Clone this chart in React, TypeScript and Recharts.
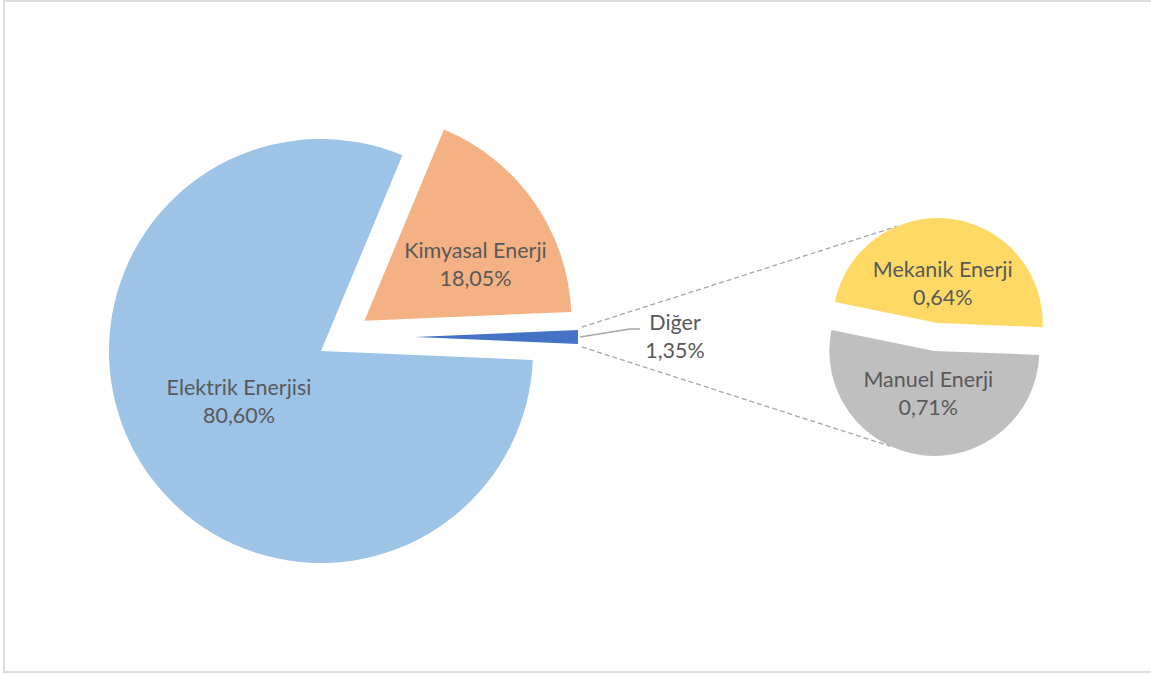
import { PieChart, Pie, Cell } from "recharts";

// Ana pasta: enerji türlerinin payı (%), "Diğer" ilk dilim
const mainNames = ["Diğer", "Kimyasal Enerji", "Elektrik Enerjisi"];
const mainValues = [1.35, 18.05, 80.6];
const mainColors = ["#4472C4", "#F4B183", "#9DC3E6"];

// "Diğer" diliminin ikinci pastadaki kırılımı
const otherNames = ["Mekanik Enerji", "Manuel Enerji"];
const otherValues = [0.64, 0.71];
const otherColors = ["#FFD966", "#BFBFBF"];

const W = 1151;
const H = 675;
const FONT = "Lato, 'Open Sans', sans-serif";
const FS = 21.5;
const TEXT = "#595959";
const LINE_GAP = 28;

const MAIN = { cx: 321, cy: 351, r: 212 };
// dışarı çekilen dilimler: [uzaklık, yarıçap]
const MAIN_EXPLODE: Record<string, [number, number]> = { "Kimyasal Enerji": [53, 207] };
// "Diğer" dilimi ayrı merkezde, daha küçük çizilir
const OTHER = { cx: 415, cy: 337, r: 163 };
const SUB = { cx: 936, cy: 337, r: 105, explode: 14, start: -2.2 };

// etiketin ilk satırının dilim merkezine göre konumu
const LABEL_POS: Record<string, [number, number]> = {
  "Elektrik Enerjisi": [-82, 44],
  "Kimyasal Enerji": [111, -63],
  "Mekanik Enerji": [5, -46],
  "Manuel Enerji": [-6, 36],
};

const RAD = Math.PI / 180;
const pct = (v: number) => v.toFixed(2).replace(".", ",") + "%";

type Slice = { name: string; value: number; color: string; start: number; end: number; mid: number };

function layoutSlices(names: string[], values: number[], colors: string[], startAngle: number): Slice[] {
  const total = values.reduce((a, b) => a + b, 0);
  let a = startAngle;
  return names.map((name, i) => {
    const sweep = (values[i] / total) * 360;
    const s = { name, value: values[i], color: colors[i], start: a, end: a + sweep, mid: a + sweep / 2 };
    a += sweep;
    return s;
  });
}

const mainTotal = mainValues.reduce((a, b) => a + b, 0);
// "Diğer" dilimi sağa, ikinci pastaya bakacak şekilde ortalanır
const mainSlices = layoutSlices(mainNames, mainValues, mainColors, -(mainValues[0] / mainTotal) * 180);
const subSlices = layoutSlices(otherNames, otherValues, otherColors, SUB.start);

function centerOf(s: Slice) {
  if (s.name === "Diğer") return { cx: OTHER.cx, cy: OTHER.cy, r: OTHER.r };
  const [d, r] = MAIN_EXPLODE[s.name] || [0, MAIN.r];
  return { cx: MAIN.cx + d * Math.cos(s.mid * RAD), cy: MAIN.cy - d * Math.sin(s.mid * RAD), r };
}

function subCenterOf(s: Slice) {
  return {
    cx: SUB.cx + SUB.explode * Math.cos(s.mid * RAD),
    cy: SUB.cy - SUB.explode * Math.sin(s.mid * RAD),
    r: SUB.r,
  };
}

function TwoLine({ x, y, name, value }: { x: number; y: number; name: string; value: number }) {
  return (
    <text x={x} y={y} textAnchor="middle" fill={TEXT} fontSize={FS} fontFamily={FONT}>
      <tspan x={x} dy={0}>{name}</tspan>
      <tspan x={x} dy={LINE_GAP}>{pct(value)}</tspan>
    </text>
  );
}

// "Diğer" etiketi, kılavuz çizgisi ve ikinci pastaya giden kesikli çizgiler
function OtherCallout({ s }: { s: Slice }) {
  const tip = (a: number) => [OTHER.cx + OTHER.r * Math.cos(a * RAD), OTHER.cy - OTHER.r * Math.sin(a * RAD)];
  const [ux, uy] = tip(s.end);
  const [lx, ly] = tip(s.start);
  const [mx, my] = tip(s.mid);
  const top = subCenterOf(subSlices[0]);
  const bottom = subCenterOf(subSlices[1]);
  const tx = top.cx + top.r * Math.cos(113 * RAD);
  const ty = top.cy - top.r * Math.sin(113 * RAD);
  const bx = bottom.cx + bottom.r * Math.cos(245 * RAD);
  const by = bottom.cy - bottom.r * Math.sin(245 * RAD);
  const sx = mx + 2;
  const ex = sx + 50;
  const ey = my - 8;
  return (
    <g>
      <line x1={ux + 4} y1={uy - 3} x2={tx} y2={ty} stroke="#A6A6A6" strokeWidth={1.3} strokeDasharray="5 3" />
      <line x1={lx + 4} y1={ly + 3} x2={bx} y2={by} stroke="#A6A6A6" strokeWidth={1.3} strokeDasharray="5 3" />
      <polyline points={`${sx},${my} ${ex},${ey} ${ex + 10},${ey}`} fill="none" stroke="#A6A6A6" strokeWidth={1.3} />
      <TwoLine x={ex + 45} y={ey + 1} name={s.name} value={s.value} />
    </g>
  );
}

export default function App() {
  return (
    <div style={{ position: "absolute", left: 0, top: 0, width: W, height: H, background: "#fff", overflow: "hidden" }}>
      <div
        style={{
          position: "absolute",
          left: 3,
          top: 0,
          width: W,
          height: 673,
          boxSizing: "border-box",
          borderTop: "2px solid #DEDEDE",
          borderLeft: "2px solid #DEDEDE",
          borderBottom: "2px solid #DEDEDE",
        }}
      />
      <PieChart
        width={W}
        height={H}
        margin={{ top: 0, right: 0, bottom: 0, left: 0 }}
        style={{ position: "absolute", left: 0, top: 0 }}
      >
        {mainSlices.map((s) => {
          const c = centerOf(s);
          const pos = LABEL_POS[s.name];
          return (
            <Pie
              key={s.name}
              data={[s]}
              dataKey="value"
              nameKey="name"
              cx={c.cx}
              cy={c.cy}
              outerRadius={c.r}
              startAngle={s.start}
              endAngle={s.end}
              stroke="none"
              isAnimationActive={false}
              labelLine={false}
              label={() =>
                s.name === "Diğer" ? (
                  <OtherCallout s={s} />
                ) : (
                  <TwoLine x={c.cx + pos[0]} y={c.cy + pos[1]} name={s.name} value={s.value} />
                )
              }
            >
              <Cell fill={s.color} />
            </Pie>
          );
        })}
        {subSlices.map((s) => {
          const c = subCenterOf(s);
          const pos = LABEL_POS[s.name];
          return (
            <Pie
              key={s.name}
              data={[s]}
              dataKey="value"
              nameKey="name"
              cx={c.cx}
              cy={c.cy}
              outerRadius={c.r}
              startAngle={s.start}
              endAngle={s.end}
              stroke="none"
              isAnimationActive={false}
              labelLine={false}
              label={() => <TwoLine x={c.cx + pos[0]} y={c.cy + pos[1]} name={s.name} value={s.value} />}
            >
              <Cell fill={s.color} />
            </Pie>
          );
        })}
      </PieChart>
    </div>
  );
}
